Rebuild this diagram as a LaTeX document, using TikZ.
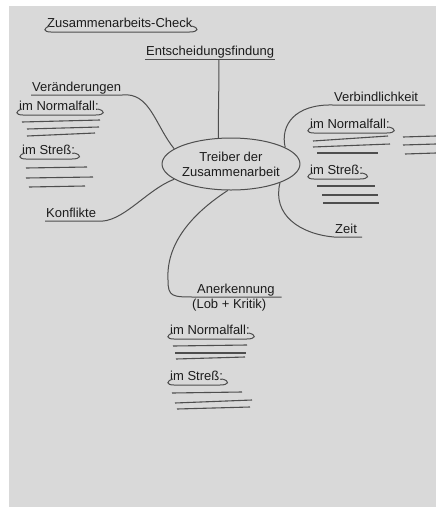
\documentclass[tikz,border=0pt]{standalone}
\usepackage{fontspec}
\setmainfont{Liberation Sans}
\usetikzlibrary{shapes.geometric}
\definecolor{paper}{RGB}{217,217,217}
\definecolor{ink}{RGB}{28,28,28}
\definecolor{pen}{RGB}{78,78,78}
\tikzset{
  word/.style={anchor=south west, inner sep=1pt, text depth=2pt, text=ink, font=\fontsize{13}{15}\selectfont},
  link/.style={draw=pen, line width=1pt},
  blank/.style={draw=pen, line width=1.1pt},
}
\newcommand{\swoosh}[1]{%
  \draw [link] ([shift={(4,-5)}]#1.south west) .. controls +(-7,2) and +(-8,0) .. ([shift={(5,1)}]#1.south west)
    -- ([shift={(-4,1)}]#1.south east) .. controls +(9,0) and +(8,2) .. ([shift={(-2,-5)}]#1.south east);}
\begin{document}
\begin{tikzpicture}[x=1pt, y=-1pt]
\useasboundingbox (0,0) rectangle (436,507);
\fill [paper] (9,6) rectangle (436,507);
% centre
\node (core) at (231,164) [ellipse, draw=pen, line width=1pt, minimum width=128pt, minimum height=52pt, inner sep=0pt, align=center, text=ink, font=\fontsize{13}{15}\selectfont] {Treiber der\\Zusammenarbeit};
% title
\node (title) at (46,31) [word] {Zusammenarbeits-Check};
\swoosh{title}
% top
\node (entsch) at (145,59) [word] {Entscheidungsfindung};
\draw [link] (entsch.south west) -- (entsch.south east);
\draw [link] ([xshift=74pt]entsch.south west) .. controls +(0,30) and +(0,-30) .. (core.116);
% left
\node (veraend) at (31,95) [word] {Veränderungen};
\draw [link] (veraend.south west) -- (veraend.south east) .. controls (150,92) and (155,125) .. (core.165);
\node (lnorm) at (18,114) [word] {im Normalfall:};
\swoosh{lnorm}
\draw [blank] (22,122) -- (100,120);
\draw [blank] (27,129) -- (99,127);
\draw [blank] (27,136) -- (95,133);
\node (lstress) at (21,158) [word] {im Streß:};
\swoosh{lstress}
\draw [blank] (26,168) -- (87,167);
\draw [blank] (26,178) -- (93,177);
\draw [blank] (29,187) -- (85,186);
\node (konfl) at (45,221) [word] {Konflikte};
\draw [link] (konfl.south west) -- (konfl.south east) .. controls (122,224) and (146,190) .. (core.195);
% right
\node (verb) at (333,105) [word] {Verbindlichkeit};
\draw [link] ([xshift=6pt]verb.south east) -- (verb.south west) .. controls (295,104) and (280,125) .. (core.17);
\node (rnorm) at (309,132) [word] {im Normalfall:};
\swoosh{rnorm}
\draw [blank] (313,141) -- (388,136);
\draw [blank] (313,147) -- (390,144);
\draw [blank] (317,153) -- (378,153);
\draw [blank] (403,137) -- (436,136);
\draw [blank] (403,145) -- (436,144);
\draw [blank] (405,154) -- (436,153);
\node (rstress) at (309,178) [word] {im Streß:};
\swoosh{rstress}
\draw [blank] (317,186) -- (375,186);
\draw [blank] (322,195) -- (378,195);
\draw [blank] (323,203) -- (379,203);
\node (zeit) at (334,237) [word] {Zeit};
\draw [link] (core.-21) .. controls (272,215) and (300,234) .. (zeit.south west) -- ([xshift=4pt]zeit.south east);
% bottom
\node (anerk) at (196,297) [word] {Anerkennung};
\node (lobkr) [word, anchor=north west] at (191,298) {(Lob + Kritik)};
\draw [link] (core.263) .. controls (190,215) and (166,245) .. (168,280) .. controls (168,297) and (172,297) .. (anerk.south west) -- ([xshift=6pt]anerk.south east);
\node (bnorm) at (169,338) [word] {im Normalfall:};
\swoosh{bnorm}
\draw [blank] (173,346) -- (247,345);
\draw [blank] (175,353) -- (246,353);
\draw [blank] (176,359) -- (245,357);
\node (bstress) at (169,384) [word] {im Streß:};
\swoosh{bstress}
\draw [blank] (172,393) -- (242,392);
\draw [blank] (175,403) -- (252,400);
\draw [blank] (177,409) -- (250,407);
\end{tikzpicture}
\end{document}
